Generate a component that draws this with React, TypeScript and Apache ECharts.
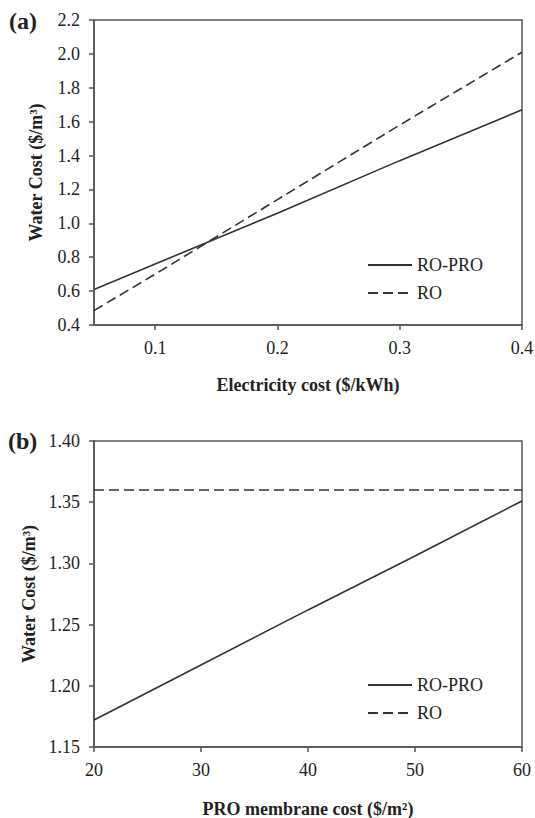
import React, { useEffect, useRef } from "react";
import * as echarts from "echarts";

// Panel (a): water cost vs electricity cost
const elecCost = [0.05, 0.1, 0.2, 0.3, 0.4];
const roProElec = [0.61, 0.76, 1.06, 1.37, 1.67];
const roElec = [0.485, 0.7, 1.14, 1.58, 2.01];
const elecTicks = [0.1, 0.2, 0.3, 0.4];

// Panel (b): water cost vs PRO membrane cost
const memCost = [20, 30, 40, 50, 60];
const roProMem = [1.172, 1.217, 1.262, 1.306, 1.351];
const roMem = [1.36, 1.36, 1.36, 1.36, 1.36];

const seriesNames = ["RO-PRO", "RO"];

const FONT = "'Liberation Serif', 'Times New Roman', serif";
const INK = "#222";
const AXIS = "#555";
const LINE = "#333";

export default function App() {
  const ref = useRef<HTMLDivElement>(null);

  useEffect(() => {
    if (!ref.current) return;
    const chart = echarts.init(ref.current, undefined, { renderer: "svg" });

    const axisCommon = {
      axisLine: { show: true, lineStyle: { color: AXIS, width: 1.5 } },
      axisTick: { show: true, length: 5, lineStyle: { color: AXIS, width: 1.5 } },
      splitLine: { show: false },
      axisLabel: { color: INK, fontFamily: FONT, fontSize: 18 },
      nameTextStyle: { color: INK, fontFamily: FONT, fontSize: 18, fontWeight: "bold" as const },
    };

    const lineSeries = (name: string, xs: number[], ys: number[], idx: number, dashed: boolean) => ({
      type: "line" as const,
      name,
      xAxisIndex: idx,
      yAxisIndex: idx,
      data: xs.map((x, i) => [x, ys[i]]),
      symbol: "none",
      showSymbol: false,
      lineStyle: { color: LINE, width: 1.6, type: dashed ? [10, 5] : "solid" },
      itemStyle: { color: LINE },
    });

    const legendCommon = {
      orient: "vertical" as const,
      itemWidth: 44,
      itemHeight: 14,
      itemGap: 10,
      data: seriesNames,
      selectedMode: false,
      itemStyle: { opacity: 0 },
      textStyle: { color: INK, fontFamily: FONT, fontSize: 18 },
    };

    chart.setOption({
      animation: false,
      backgroundColor: "#fff",
      grid: [
        { left: 94, top: 20, width: 428, height: 305, show: true, borderColor: AXIS, borderWidth: 1.5, outerBoundsMode: "none" },
        { left: 94, top: 441, width: 428, height: 306, show: true, borderColor: AXIS, borderWidth: 1.5, outerBoundsMode: "none" },
      ],
      xAxis: [
        {
          ...axisCommon,
          type: "value",
          gridIndex: 0,
          min: 0.05,
          max: 0.4,
          axisTick: { ...axisCommon.axisTick, customValues: elecTicks },
          axisLabel: { ...axisCommon.axisLabel, margin: 14, customValues: elecTicks, formatter: (v: number) => v.toFixed(1) },
          name: "Electricity cost ($/kWh)",
          nameLocation: "middle",
          nameGap: 51,
        },
        {
          ...axisCommon,
          type: "value",
          gridIndex: 1,
          min: 20,
          max: 60,
          interval: 10,
          axisLabel: { ...axisCommon.axisLabel, margin: 14 },
          name: "PRO membrane cost ($/m²)",
          nameLocation: "middle",
          nameGap: 53,
        },
      ],
      yAxis: [
        {
          ...axisCommon,
          type: "value",
          gridIndex: 0,
          min: 0.4,
          max: 2.2,
          interval: 0.2,
          axisLabel: { ...axisCommon.axisLabel, margin: 14, formatter: (v: number) => v.toFixed(1) },
          name: "Water Cost ($/m³)",
          nameLocation: "middle",
          nameGap: 49,
        },
        {
          ...axisCommon,
          type: "value",
          gridIndex: 1,
          min: 1.15,
          max: 1.4,
          interval: 0.05,
          axisLabel: { ...axisCommon.axisLabel, margin: 14, formatter: (v: number) => v.toFixed(2) },
          name: "Water Cost ($/m³)",
          nameLocation: "middle",
          nameGap: 53,
        },
      ],
      legend: [
        { ...legendCommon, left: 362, top: 251 },
        { ...legendCommon, left: 362, top: 671 },
      ],
      series: [
        lineSeries("RO-PRO", elecCost, roProElec, 0, false),
        lineSeries("RO", elecCost, roElec, 0, true),
        lineSeries("RO-PRO", memCost, roProMem, 1, false),
        lineSeries("RO", memCost, roMem, 1, true),
      ],
      graphic: [
        {
          type: "text",
          left: 9,
          top: 9,
          style: { text: "(a)", fill: INK, font: `bold 24px ${FONT}` },
        },
        {
          type: "text",
          left: 8,
          top: 429,
          style: { text: "(b)", fill: INK, font: `bold 24px ${FONT}` },
        },
      ],
    });

    return () => chart.dispose();
  }, []);

  return (
    <div
      ref={ref}
      style={{ position: "absolute", left: 0, top: 0, width: 535, height: 818, background: "#fff" }}
    />
  );
}
